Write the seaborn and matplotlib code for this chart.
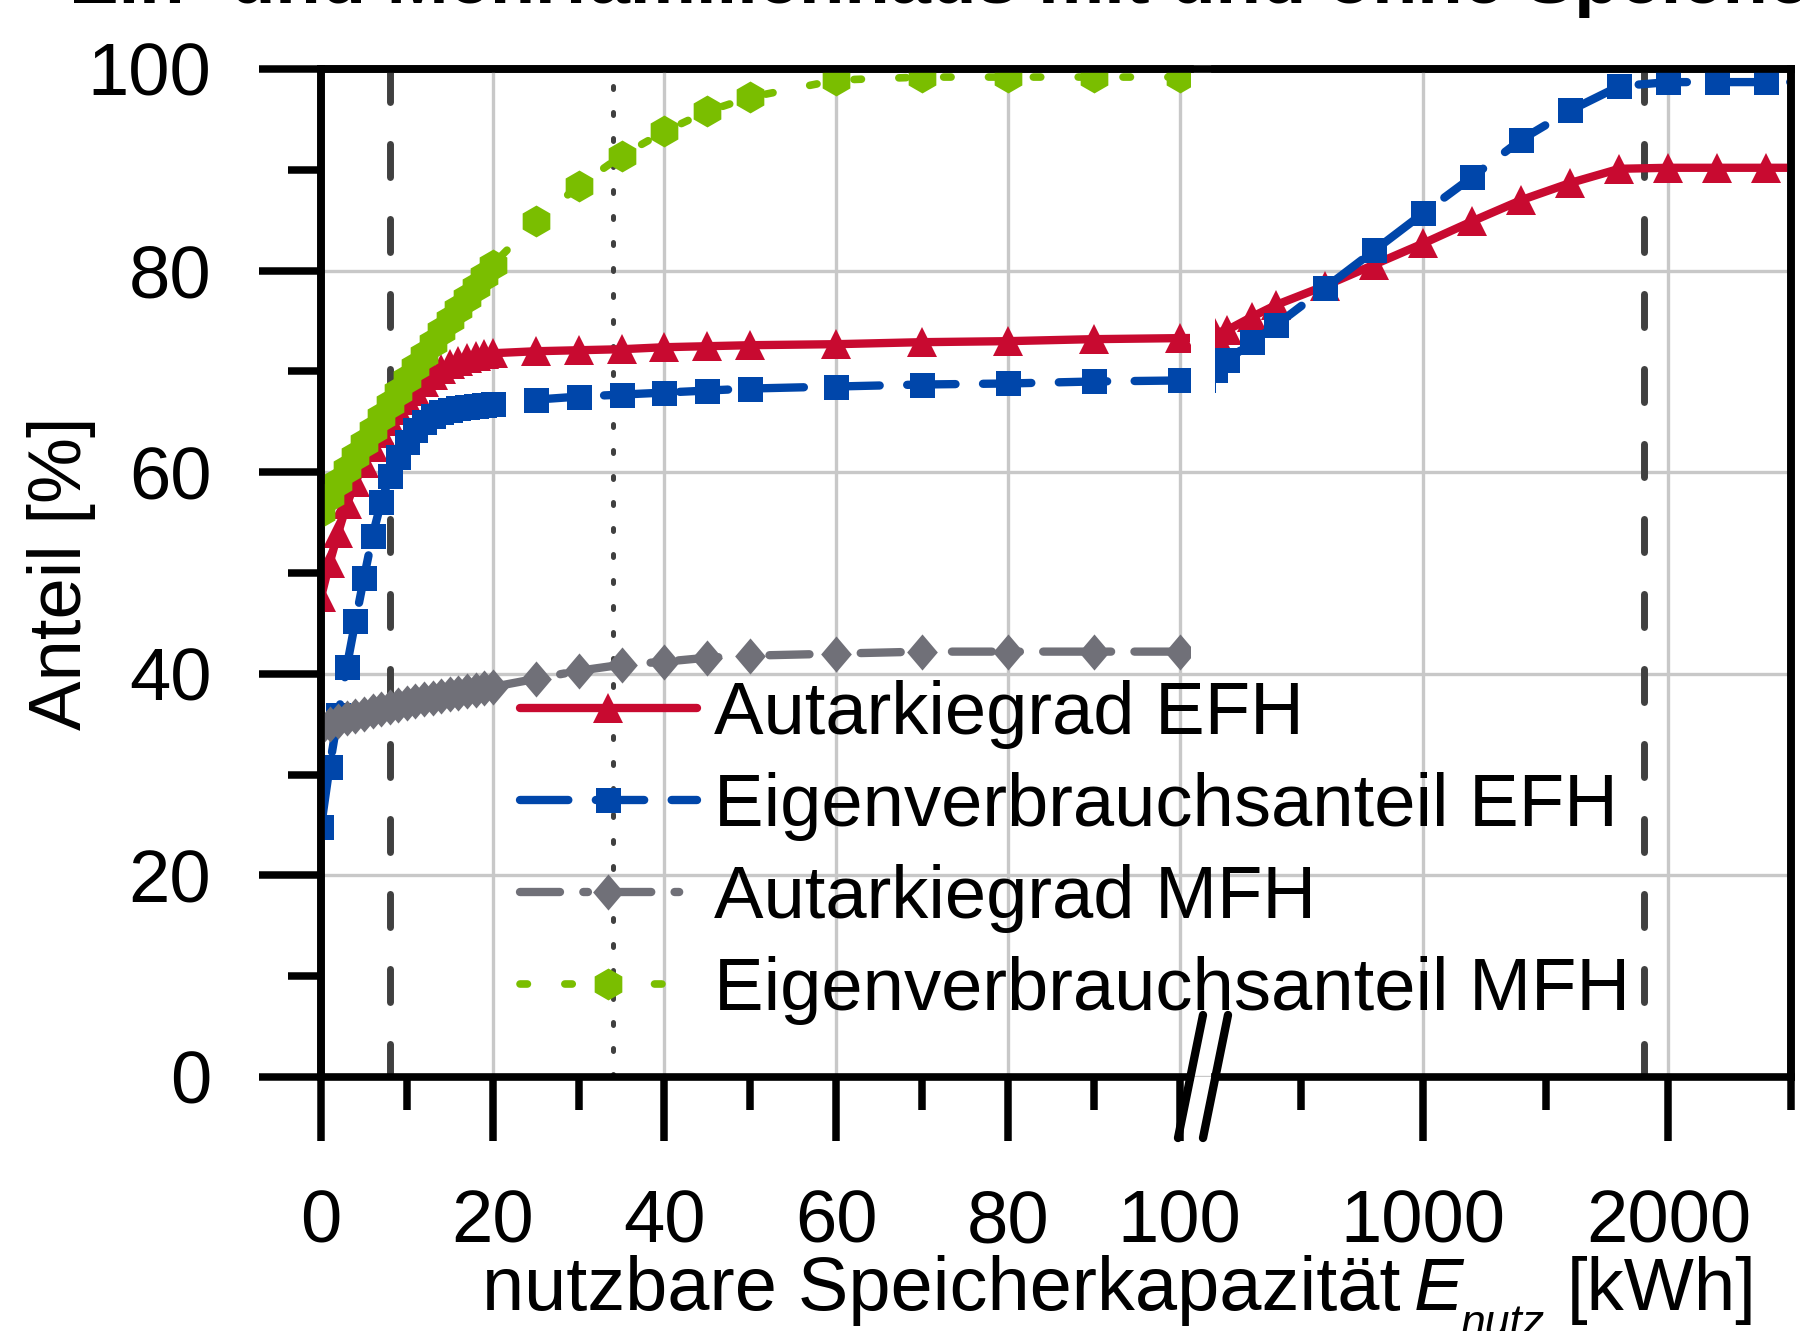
import matplotlib
matplotlib.use("Agg")
import matplotlib.pyplot as plt
import seaborn as sns
from matplotlib.lines import Line2D
from matplotlib.ticker import MultipleLocator, FixedLocator

# ---------------- data ----------------
x_efh = [0, 1, 2, 3, 4, 5, 6, 7, 8, 9, 10, 11, 12, 13, 14, 15, 16, 17, 18, 19, 20,
         25, 30, 35, 40, 45, 50, 60, 70, 80, 90, 100,
         150, 200, 300, 400, 600, 800, 1000, 1200, 1400, 1600, 1800, 2000, 2200, 2400, 2600]
autarkie_efh = [47.6, 51.0, 54.0, 56.8, 59.0, 60.9, 62.5, 63.9, 65.1, 66.2, 67.2, 68.1, 68.9,
                69.6, 70.2, 70.7, 71.0, 71.3, 71.5, 71.7, 71.8,
                72.0, 72.1, 72.2, 72.4, 72.5, 72.6, 72.7, 72.9, 73.0, 73.2, 73.3,
                73.8, 74.1, 75.4, 76.6, 78.5, 80.6, 82.7, 84.9, 87.0, 88.7, 90.1, 90.2,
                90.2, 90.2, 90.2]
eigen_efh = [24.8, 30.8, 35.9, 40.7, 45.2, 49.5, 53.7, 57.0, 59.6, 61.5, 63.0, 64.2, 65.0,
             65.6, 66.0, 66.2, 66.4, 66.5, 66.6, 66.7, 66.8,
             67.2, 67.5, 67.7, 67.9, 68.1, 68.3, 68.5, 68.7, 68.8, 69.0, 69.1,
             70.1, 71.1, 72.9, 74.6, 78.3, 82.0, 85.7, 89.3, 93.0, 95.9, 98.3, 98.7,
             98.7, 98.7, 98.7]

x_mfh = [0, 1, 2, 3, 4, 5, 6, 7, 8, 9, 10, 11, 12, 13, 14, 15, 16, 17, 18, 19, 20,
         25, 30, 35, 40, 45, 50, 60, 70, 80, 90, 100]
autarkie_mfh = [34.6, 35.0, 35.3, 35.6, 35.8, 36.0, 36.3, 36.5, 36.7, 36.9, 37.1, 37.3, 37.5,
                37.6, 37.8, 38.0, 38.1, 38.3, 38.4, 38.6, 38.7,
                39.5, 40.3, 40.9, 41.2, 41.6, 41.8, 42.0, 42.2, 42.2, 42.2, 42.2]
eigen_mfh = [56.1, 57.6, 59.0, 60.3, 61.6, 62.9, 64.2, 65.5, 66.8, 68.0, 69.2, 70.4, 71.6,
             72.8, 74.0, 75.1, 76.2, 77.3, 78.4, 79.5, 80.6,
             84.9, 88.4, 91.4, 93.8, 95.8, 97.2, 98.9, 99.2, 99.2, 99.2, 99.2]

series_labels = ["Autarkiegrad EFH", "Eigenverbrauchsanteil EFH",
                 "Autarkiegrad MFH", "Eigenverbrauchsanteil MFH"]
y_ticks = [0, 20, 40, 60, 80, 100]
left_ticks = [0, 20, 40, 60, 80, 100]
right_ticks = [1000, 2000]
right_minor = [500, 1500, 2500]
ref_dashed_left = 8
ref_dotted_left = 34
ref_dashed_right = 1900

title_text = "Ein- und Mehrfamilienhaus mit und ohne Speicher"
y_label = "Anteil [%]"
x_label_main = "nutzbare Speicherkapazität"
x_label_sym = "E"
x_label_sub = "nutz"
x_label_unit = "[kWh]"

# ---------------- style ----------------
RED = "#C80A30"
BLUE = "#0046AA"
GRAY = "#707078"
GREEN = "#7ABE00"
REF = "#404040"
GRID = "#C8C8C8"

sns.set_theme(style="white", rc={"text.color": "black", "xtick.color": "black",
                                 "ytick.color": "black", "axes.labelcolor": "black",
                                 "axes.edgecolor": "black"})
plt.rcParams["font.family"] = ["Liberation Sans", "DejaVu Sans"]

FS = 53.5
W, H = 1800, 1331
fig = plt.figure(figsize=(W / 100, H / 100), dpi=100)


def box(l, r, t, b):
    return [l / W, 1 - b / H, (r - l) / W, (b - t) / H]


ax_bg = fig.add_axes(box(321, 1791, 69, 1077))
ax_l = fig.add_axes(box(321, 1190, 69, 1077))
ax_r = fig.add_axes(box(1215, 1791, 69, 1077))

SPW = 5.5
# background axes: y axis, horizontal grid, frame
ax_bg.set_xlim(0, 1)
ax_bg.set_ylim(0, 100)
ax_bg.set_xticks([])
ax_bg.yaxis.set_major_locator(FixedLocator(y_ticks))
ax_bg.yaxis.set_minor_locator(MultipleLocator(10))
ax_bg.tick_params(axis="y", which="major", left=True, direction="out", length=45,
                  width=5.4, labelsize=FS, pad=34)
ax_bg.tick_params(axis="y", which="minor", left=True, direction="out", length=24, width=5.4)
ax_bg.grid(axis="y", which="major", color=GRID, lw=2.4)
for s in ("left", "top", "right"):
    ax_bg.spines[s].set_linewidth(SPW)
    ax_bg.spines[s].set_color("black")
ax_bg.spines["bottom"].set_visible(False)

# (x, y, colour, marker, markersize, linewidth, linestyle, also on right part)
line_specs = [
    (x_efh, autarkie_efh, RED, "^", 21, 6, "-", True),
    (x_efh, eigen_efh, BLUE, "s", 18, 6, (0, (5.8, 3.3)), True),
    (x_mfh, autarkie_mfh, GRAY, [(0, 1), (0.85, 0), (0, -1), (-0.85, 0), (0, 1)], 26, 6,
     (0, (4.8, 2.8, 0.55, 2.8)), False),
    (x_mfh, eigen_mfh, GREEN, "h", 23, 5.5, (0, (0.97, 4.9)), False),
]

handles = []
for ax in (ax_l, ax_r):
    ax.set_facecolor("none")
    for (xs, ys, col, mk, ms, lw, ls, on_right), lab in zip(line_specs, series_labels):
        if ax is ax_r and not on_right:
            continue
        sns.lineplot(x=xs, y=ys, ax=ax, color=col, marker=mk, markersize=ms,
                     markeredgewidth=0, linewidth=lw, linestyle=ls,
                     dash_capstyle="round", solid_capstyle="round",
                     errorbar=None, sort=False, label=lab, legend=False)
        if ax is ax_l:
            handles.append(ax.lines[-1])
    ax.set_ylim(0, 100)
    ax.set_yticks([])
    ax.set_xlabel("")
    ax.set_ylabel("")
    for s in ("left", "top", "right", "bottom"):
        ax.spines[s].set_linewidth(SPW)
        ax.spines[s].set_color("black")
    ax.tick_params(axis="x", which="major", bottom=True, direction="out", length=46,
                   width=5.4, labelsize=FS, pad=34)
    ax.tick_params(axis="x", which="minor", bottom=True, direction="out", length=24,
                   width=5.4)
    ax.tick_params(axis="y", left=False, labelleft=False)
    ax.grid(axis="x", which="major", color=GRID, lw=2.4)
    ax.grid(axis="y", visible=False)

# the inner edges at the axis break carry no frame line
ax_l.spines["right"].set_visible(False)
ax_r.spines["left"].set_visible(False)

ax_l.set_xlim(0, 101.2)
ax_l.xaxis.set_major_locator(FixedLocator(left_ticks))
ax_l.xaxis.set_minor_locator(MultipleLocator(10))
ax_r.set_xlim(150, 2500)
ax_r.xaxis.set_major_locator(FixedLocator(right_ticks))
ax_r.xaxis.set_minor_locator(FixedLocator(right_minor))

# reference lines
ax_l.axvline(ref_dashed_left, color=REF, lw=5, linestyle=(0, (4.76, 6.04)),
             dash_capstyle="round", zorder=1.6)
ax_l.axvline(ref_dotted_left, color=REF, lw=3.6, linestyle=(0, (0.6, 4.6)),
             dash_capstyle="round", zorder=1.6)
ax_r.axvline(ref_dashed_right, color=REF, lw=5, linestyle=(0, (4.76, 6.04)),
             dash_capstyle="round", zorder=1.6)

# axis break marks
for x0 in (1203, 1228):
    fig.add_artist(Line2D([x0 / W, (x0 - 25) / W], [1 - 1015 / H, 1 - 1138 / H],
                          transform=fig.transFigure, color="black", lw=6,
                          solid_capstyle="round"))

# legend
fig.legend(handles, series_labels, loc="upper left", bbox_to_anchor=(520 / W, 1 - 680 / H),
           frameon=False, fontsize=FS, handlelength=2.38, handletextpad=0.23,
           labelspacing=0.31, borderpad=0, borderaxespad=0)

# texts
fig.text(62 / W, 1 - 573 / H, y_label, rotation=90, ha="center", va="center", fontsize=FS)
fig.text(1400 / W, 1 - 1310 / H, x_label_main, ha="right", va="baseline", fontsize=54.5)
fig.text(1414 / W, 1 - 1310 / H, x_label_sym, ha="left", va="baseline", fontsize=FS,
         style="italic")
fig.text(1460 / W, 1 - 1336 / H, x_label_sub, ha="left", va="baseline", fontsize=32,
         style="italic")
fig.text(1756 / W, 1 - 1310 / H, x_label_unit, ha="right", va="baseline", fontsize=FS)
fig.text(69 / W, 1 - 3 / H, title_text, ha="left", va="baseline", fontsize=FS,
         fontweight="bold")

fig.savefig("out.png", dpi=100)
